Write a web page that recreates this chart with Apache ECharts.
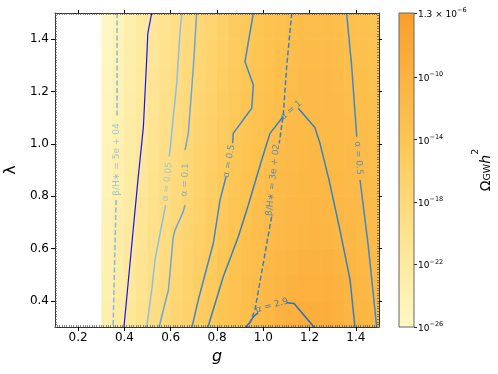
<!DOCTYPE html>
<html><head><meta charset="utf-8">
<script src="https://cdn.jsdelivr.net/npm/echarts@6/dist/echarts.min.js"></script>
<style>html,body{margin:0;padding:0;background:#fff}#c{width:498px;height:374px}</style>
</head><body><div id="c"></div>
<script>
// ---- data ----
const xTicks = [0.2, 0.4, 0.6, 0.8, 1.0, 1.2, 1.4];
const yTicks = [0.4, 0.6, 0.8, 1.0, 1.2, 1.4];
const cbTicks = [-26, -22, -18, -14, -10];
const cbTopValue = 1.3e-6;
const cmapColors = ['#fff8c4', '#feeaa0', '#fed97a', '#fdc552', '#fcb240', '#fa9e2c'];

const gEdges = [0.30,0.35,0.40,0.45,0.50,0.55,0.60,0.65,0.70,0.75,0.80,0.85,0.90,0.95,1.00,1.05,1.10,1.15,1.20,1.25,1.30,1.35,1.40,1.45,1.50];
const lamEdges = [0.3,0.4,0.5,0.6,0.7,0.8,0.9,1.0,1.1,1.2,1.3,1.4,1.5];
// log10(Omega_GW h^2), rows from lambda=0.3 (bottom) to 1.5 (top)
const logOmega = [
  [-23.5,-22.3,-21.2,-20.1,-19.1,-18.1,-17.2,-16.3,-15.5,-14.7,-13.9,-13.2,-12.5,-11.8,-10.9,-10.0,-9.5,-9.2,-9.1,-9.2,-9.6,-10.3,-10.8,-11.2],
  [-23.7,-22.5,-21.4,-20.3,-19.3,-18.3,-17.4,-16.5,-15.7,-14.9,-14.1,-13.4,-12.7,-12.0,-11.2,-10.4,-10.0,-9.7,-9.6,-9.7,-10.0,-10.6,-11.0,-11.4],
  [-23.9,-22.7,-21.6,-20.5,-19.5,-18.5,-17.6,-16.7,-15.9,-15.1,-14.3,-13.6,-12.9,-12.2,-11.4,-10.8,-10.3,-10.0,-9.9,-10.0,-10.3,-10.8,-11.3,-11.6],
  [-24.1,-22.9,-21.8,-20.7,-19.7,-18.7,-17.8,-16.9,-16.1,-15.3,-14.5,-13.8,-13.1,-12.5,-11.9,-11.4,-11.0,-10.7,-10.6,-10.7,-10.9,-11.2,-11.5,-11.8],
  [-24.3,-23.1,-22.0,-20.9,-19.9,-18.9,-18.0,-17.1,-16.3,-15.5,-14.7,-14.0,-13.3,-12.7,-12.1,-11.6,-11.2,-10.9,-10.8,-10.9,-11.1,-11.4,-11.7,-12.0],
  [-24.5,-23.3,-22.2,-21.1,-20.1,-19.1,-18.2,-17.3,-16.5,-15.7,-14.9,-14.2,-13.5,-12.9,-12.3,-11.8,-11.4,-11.1,-11.0,-11.1,-11.3,-11.6,-11.9,-12.2],
  [-24.7,-23.5,-22.4,-21.3,-20.3,-19.3,-18.4,-17.5,-16.7,-15.9,-15.1,-14.4,-13.7,-13.1,-12.5,-12.0,-11.6,-11.3,-11.2,-11.3,-11.5,-11.8,-12.1,-12.4],
  [-24.9,-23.7,-22.6,-21.5,-20.5,-19.5,-18.6,-17.7,-16.9,-16.1,-15.3,-14.6,-13.9,-13.3,-12.7,-12.2,-11.8,-11.5,-11.4,-11.5,-11.7,-12.0,-12.3,-12.6],
  [-25.1,-23.9,-22.8,-21.7,-20.7,-19.7,-18.8,-17.9,-17.1,-16.3,-15.5,-14.8,-14.1,-13.5,-12.9,-12.4,-12.0,-11.7,-11.6,-11.7,-11.9,-12.2,-12.5,-12.8],
  [-25.3,-24.1,-23.0,-21.9,-20.9,-19.9,-19.0,-18.1,-17.3,-16.5,-15.7,-15.0,-14.3,-13.7,-13.1,-12.6,-12.2,-11.9,-11.8,-11.9,-12.1,-12.4,-12.7,-13.0],
  [-25.5,-24.3,-23.2,-22.1,-21.1,-20.1,-19.2,-18.3,-17.5,-16.7,-15.9,-15.2,-14.5,-13.9,-13.3,-12.8,-12.4,-12.1,-12.0,-12.1,-12.3,-12.6,-12.9,-13.2],
  [-25.7,-24.5,-23.4,-22.3,-21.3,-20.3,-19.4,-18.5,-17.7,-16.9,-16.1,-15.4,-14.7,-14.1,-13.5,-13.0,-12.6,-12.3,-12.2,-12.3,-12.5,-12.8,-13.1,-13.4]
];

// contour lines [g, lambda]; null = label gap
const blueLine = [[0.518,1.5],[0.501,1.422],[0.496,1.32],[0.482,1.065],[0.457,0.85],[0.398,0.3]];
const beta5e04 = [[0.368,1.5],[0.368,1.10],null,[0.364,0.785],[0.351,0.3]];
const alpha005 = [[0.648,1.5],[0.640,1.422],[0.626,1.231],[0.604,1.040],[0.594,0.951],null,[0.578,0.766],[0.568,0.722],[0.532,0.556],[0.518,0.441],[0.496,0.3]];
const alpha01 = [[0.712,1.5],[0.698,1.295],[0.676,1.040],[0.662,0.976],null,[0.662,0.766],[0.654,0.741],[0.619,0.671],[0.611,0.645],[0.590,0.441],[0.575,0.390],[0.550,0.3]];
const alpha05L = [[0.957,1.5],[0.921,1.314],[0.957,1.225],[0.950,1.136],[0.870,1.040],[0.868,1.002],null,[0.839,0.874],[0.813,0.785],[0.784,0.620],[0.719,0.403],[0.692,0.3]];
const alpha1 = [[0.761,0.3],[0.827,0.492],[0.892,0.645],[0.935,0.765],[0.993,0.938],[1.029,1.040],[1.080,1.098],[1.087,1.104],null,[1.151,1.136],[1.223,1.062],[1.245,1.002],[1.284,0.862],[1.331,0.671],[1.375,0.480],[1.396,0.3]];
const alpha29 = [[0.925,0.3],[0.943,0.319],[0.957,0.339],[0.978,0.355],null,[1.101,0.393],[1.133,0.390],[1.219,0.3]];
const beta3e02 = [[1.123,1.5],[1.101,1.295],[1.087,1.117],[1.069,1.002],null,[1.036,0.722],[0.964,0.365],[0.935,0.3]];
const alpha05R = [[1.360,1.5],[1.382,1.295],[1.404,1.027],null,[1.418,0.862],[1.454,0.607],[1.490,0.3]];

// contour labels: position [g, lambda], text, angle
const labelPos = [[0.368,0.94],[0.585,0.855],[0.662,0.862],[0.852,0.934],[1.120,1.128],[1.042,0.862],[1.038,0.382],[1.411,0.946]];
const labelText = ['β/H∗ = 5e + 04','α = 0.05','α = 0.1','α = 0.5','α = 1','β/H∗ = 3e + 02','α = 2.9','α = 0.5'];
const labelAngle = [90, 84, 87, 80, 41, 84, 16, -86];

// ---- styles ----
const C = {
  blue: '#1414f0', b5e04: '#86b9df', a005: '#8dbfe3', a01: '#6ba6d7',
  a05: '#4088c7', a1: '#3580c0', a29: '#2a71b2', b3e02: '#3a80c2'
};
const labelColors = [C.b5e04, C.a005, C.a01, C.a05, C.a1, C.b3e02, C.a29, C.a05];
const FONT = 'DejaVu Sans';
const cbMax = Math.log10(cbTopValue);

const heatData = [];
for (let i = 0; i < lamEdges.length - 1; i++) {
  for (let j = 0; j < gEdges.length - 1; j++) {
    heatData.push([gEdges[j], gEdges[j+1], lamEdges[i], lamEdges[i+1], logOmega[i][j]]);
  }
}

function lineSeries(data, color, dashed, width) {
  return {
    type: 'line', xAxisIndex: 0, yAxisIndex: 0, data: data, showSymbol: false, symbol: 'none',
    connectNulls: false, silent: true, z: 5, clip: true, animation: false,
    lineStyle: { color: color, width: width || 1.5, type: dashed ? [5, 2.5] : 'solid' }
  };
}

const chart = echarts.init(document.getElementById('c'), null, { renderer: 'canvas' });
const majorTickStyle = { color: '#000', width: 1 };
const minorTickStyle = { color: '#555', width: 0.7 };
const fmt1 = v => (Math.round(v * 10) / 10).toFixed(1);

const option = {
  animation: false,
  backgroundColor: '#fff',
  textStyle: { fontFamily: FONT },
  grid: [
    { left: 55, top: 13, width: 324, height: 314, show: false, containLabel: false, outerBoundsMode: 'none' },
    { left: 399, top: 13, width: 15, height: 314, show: false, containLabel: false, outerBoundsMode: 'none' }
  ],
  xAxis: [
    { type: 'value', gridIndex: 0, position: 'bottom', min: 0.1, max: 1.5, z: 10,
      name: 'g', nameLocation: 'middle', nameGap: 21,
      nameTextStyle: { fontSize: 16, fontStyle: 'italic', fontFamily: FONT, color: '#000' },
      axisLine: { show: true, onZero: false, lineStyle: { color: '#333', width: 1 } },
      axisTick: { show: true, inside: false, length: 4, customValues: xTicks, lineStyle: majorTickStyle },
      axisLabel: { show: true, customValues: xTicks, formatter: fmt1, fontSize: 12, color: '#000', margin: 5, fontFamily: FONT },
      splitLine: { show: false } },
    { type: 'value', gridIndex: 0, position: 'top', min: 0.1, max: 1.5, z: 10,
      axisLine: { show: true, onZero: false, lineStyle: { color: '#333', width: 1 } },
      axisTick: { show: true, inside: false, length: 3, customValues: xTicks, lineStyle: majorTickStyle },
      axisLabel: { show: false }, splitLine: { show: false } },
    { type: 'value', gridIndex: 0, position: 'bottom', min: 0.1, max: 1.5, interval: 0.01, z: 10,
      axisLine: { show: false, onZero: false }, axisLabel: { show: false }, splitLine: { show: false },
      axisTick: { show: true, inside: true, length: 2, lineStyle: minorTickStyle } },
    { type: 'value', gridIndex: 0, position: 'top', min: 0.1, max: 1.5, interval: 0.01, z: 10,
      axisLine: { show: false, onZero: false }, axisLabel: { show: false }, splitLine: { show: false },
      axisTick: { show: true, inside: true, length: 2, lineStyle: minorTickStyle } },
    { type: 'value', gridIndex: 1, min: 0, max: 1, show: false }
  ],
  yAxis: [
    { type: 'value', gridIndex: 0, position: 'left', min: 0.3, max: 1.5, z: 10,
      name: 'λ', nameLocation: 'middle', nameGap: 36, nameRotate: 90,
      nameTextStyle: { fontSize: 16, fontFamily: FONT, color: '#000' },
      axisLine: { show: true, onZero: false, lineStyle: { color: '#333', width: 1 } },
      axisTick: { show: true, inside: false, length: 4, customValues: yTicks, lineStyle: majorTickStyle },
      axisLabel: { show: true, customValues: yTicks, formatter: fmt1, fontSize: 12, color: '#000', margin: 6, fontFamily: FONT },
      splitLine: { show: false } },
    { type: 'value', gridIndex: 0, position: 'right', min: 0.3, max: 1.5, z: 10,
      axisLine: { show: true, onZero: false, lineStyle: { color: '#333', width: 1 } },
      axisTick: { show: true, inside: false, length: 3, customValues: yTicks, lineStyle: majorTickStyle },
      axisLabel: { show: false }, splitLine: { show: false } },
    { type: 'value', gridIndex: 0, position: 'left', min: 0.3, max: 1.5, interval: 0.01, z: 10,
      axisLine: { show: false, onZero: false }, axisLabel: { show: false }, splitLine: { show: false },
      axisTick: { show: true, inside: true, length: 2, lineStyle: minorTickStyle } },
    { type: 'value', gridIndex: 0, position: 'right', min: 0.3, max: 1.5, interval: 0.01, z: 10,
      axisLine: { show: false, onZero: false }, axisLabel: { show: false }, splitLine: { show: false },
      axisTick: { show: true, inside: true, length: 2, lineStyle: minorTickStyle } },
    { type: 'value', gridIndex: 1, position: 'right', min: -26, max: cbMax, z: 10,
      axisLine: { show: false, onZero: false },
      axisTick: { show: true, inside: false, length: 3, customValues: cbTicks.concat([cbMax]), lineStyle: { color: '#333', width: 1 } },
      axisLabel: { show: true, customValues: cbTicks.concat([cbMax]), margin: 4, color: '#000',
        formatter: function (v) {
          if (Math.abs(v - cbMax) < 1e-6) return '{b|1.3 × 10}{s|−6}';
          return '{b|10}{s|−' + Math.round(-v) + '}';
        },
        rich: {
          b: { fontSize: 9, fontFamily: FONT, color: '#000', lineHeight: 12, verticalAlign: 'bottom' },
          s: { fontSize: 6.5, fontFamily: FONT, color: '#000', lineHeight: 12, verticalAlign: 'top', padding: [0, 0, 5, 0] }
        } },
      splitLine: { show: false } }
  ],
  visualMap: [{
    type: 'continuous', show: false, seriesIndex: 0, dimension: 4,
    min: -26, max: cbMax, inRange: { color: cmapColors }
  }],
  graphic: [{
    type: 'text', x: 482, y: 170, rotation: Math.PI / 2,
    style: {
      text: '{o|Ω}{g|GW}{h|h}{p|2}', align: 'center', verticalAlign: 'middle',
      rich: {
        o: { fontSize: 14, fontFamily: FONT, fill: '#000', verticalAlign: 'bottom', lineHeight: 18 },
        g: { fontSize: 9.5, fontFamily: FONT, fill: '#000', verticalAlign: 'bottom', lineHeight: 14 },
        h: { fontSize: 14, fontFamily: FONT, fontStyle: 'italic', fill: '#000', verticalAlign: 'bottom', lineHeight: 18 },
        p: { fontSize: 9.5, fontFamily: FONT, fill: '#000', verticalAlign: 'top', lineHeight: 22 }
      }
    }
  }],
  series: [
    {
      type: 'custom', xAxisIndex: 0, yAxisIndex: 0, data: heatData, silent: true, z: 1,
      dimensions: ['g0', 'g1', 'l0', 'l1', 'v'],
      encode: { x: [0, 1], y: [2, 3] },
      renderItem: function (params, api) {
        const p0 = api.coord([api.value(0), api.value(2)]);
        const p1 = api.coord([api.value(1), api.value(3)]);
        const col = api.visual('color');
        return { type: 'rect',
          shape: { x: p0[0], y: p1[1], width: p1[0] - p0[0] + 0.6, height: p0[1] - p1[1] + 0.6 },
          style: { fill: col, stroke: null } };
      }
    },
    {
      type: 'custom', xAxisIndex: 4, yAxisIndex: 4, data: [[0, 1, -26, cbMax]], silent: true,
      renderItem: function (params, api) {
        const p0 = api.coord([api.value(0), api.value(2)]);
        const p1 = api.coord([api.value(1), api.value(3)]);
        const stops = cmapColors.map((c, i) => ({ offset: 1 - i / (cmapColors.length - 1), color: c }));
        return { type: 'rect',
          shape: { x: p0[0], y: p1[1], width: p1[0] - p0[0], height: p0[1] - p1[1] },
          style: { fill: new echarts.graphic.LinearGradient(0, 0, 0, 1, stops), stroke: '#666', lineWidth: 1 } };
      }
    },
    lineSeries(blueLine, C.blue, false, 1.2),
    lineSeries(beta5e04, C.b5e04, true, 1.5),
    lineSeries(alpha005, C.a005, false, 1.5),
    lineSeries(alpha01, C.a01, false, 1.5),
    lineSeries(alpha05L, C.a05, false, 1.5),
    lineSeries(alpha1, C.a1, false, 1.5),
    lineSeries(alpha29, C.a29, false, 1.5),
    lineSeries(beta3e02, C.b3e02, true, 1.5),
    lineSeries(alpha05R, C.a05, false, 1.5),
    {
      type: 'scatter', xAxisIndex: 0, yAxisIndex: 0, symbolSize: 0, silent: true, z: 6,
      data: labelPos.map((p, i) => ({
        value: p,
        label: { show: true, position: 'inside', formatter: labelText[i], rotate: labelAngle[i],
          color: labelColors[i], fontSize: 9, fontFamily: FONT, align: 'center', verticalAlign: 'middle' }
      }))
    }
  ]
};
chart.setOption(option);
</script>
</body></html>
